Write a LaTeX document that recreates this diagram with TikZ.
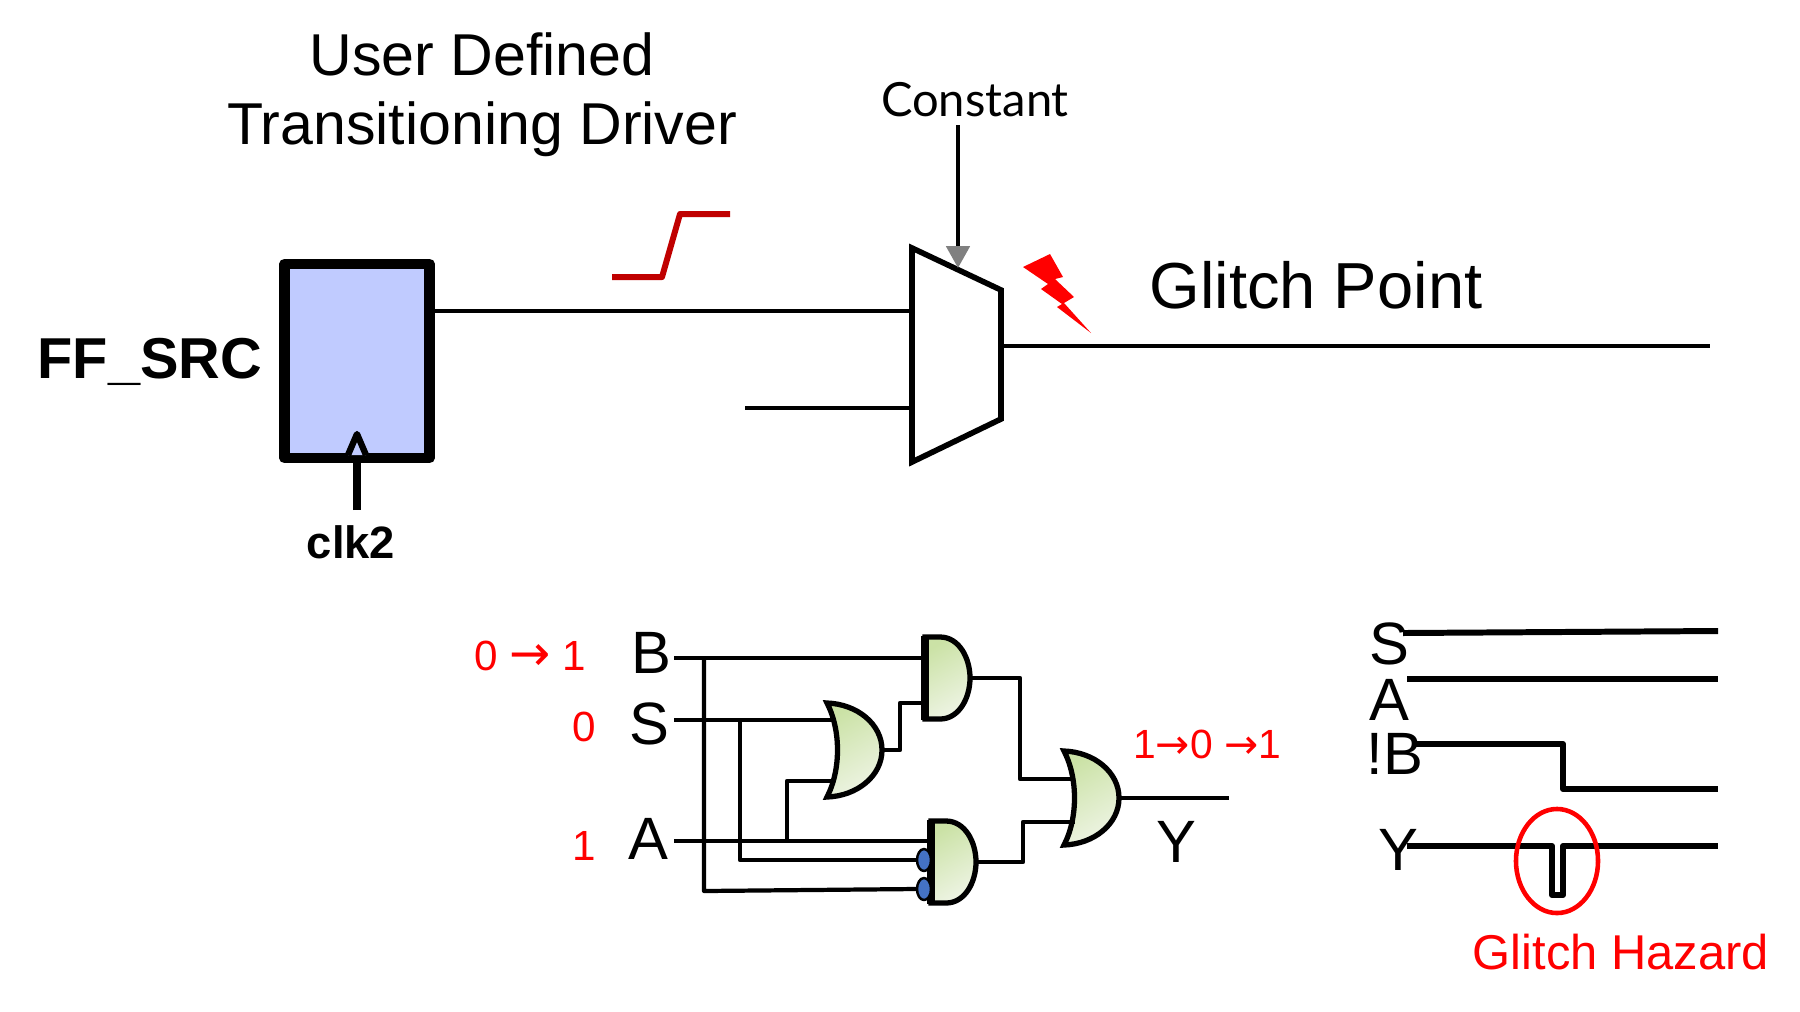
\documentclass[tikz,border=0pt]{standalone}
\usepackage{fontspec}
\setmainfont{Liberation Sans}
\newfontfamily\constfont{Lato}
\newfontfamily\arrowfont{DejaVu Sans}
\usetikzlibrary{arrows.meta, % gray tip on the select line
                shapes.geometric}
\definecolor{ffblue}{RGB}{192,203,255}
\definecolor{gatedark}{RGB}{203,226,166}
\definecolor{gatelight}{RGB}{238,244,228}
\definecolor{bubbleblue}{RGB}{68,114,196}
\definecolor{stepred}{RGB}{192,0,0}
\newcommand{\fsz}[1]{\fontsize{#1}{1.17\dimexpr #1pt\relax}\selectfont}
\newcommand{\arr}{{\arrowfont →}}
\tikzset{
  wire/.style={draw, line width=1.1pt},
  gatewire/.style={draw, line width=1.2pt},
  wave/.style={draw, line width=1.7pt},
  txt/.style={inner sep=0pt, outer sep=0pt},
  redtxt/.style={txt, text=red},
  bubble/.style={draw, fill=bubbleblue, ellipse, line width=.7pt, minimum width=.14cm, minimum height=.22cm, inner sep=0pt},
  gatebody/.style={draw, line width=1.5pt, line join=miter, top color=gatedark, bottom color=gatelight, shading angle=30},
  pics/andgate/.style={code={
    \path[gatebody] (0,-41) -- (15,-41) .. controls (34,-41) and (45,-20) .. (45,0)
      .. controls (45,20) and (34,41) .. (15,41) -- (0,41) -- cycle;
    \draw[line width=2pt] (0,-42) -- (0,42);
    \coordinate (-out) at (45,0);
  }},
  pics/orgate/.style={code={
    \path[gatebody] (0,-47) .. controls (30,-46) and (55,-26) .. (55,0)
      .. controls (55,26) and (30,46) .. (0,47)
      .. controls (14,20) and (14,-20) .. (0,-47) -- cycle;
    \coordinate (-out) at (55,0);
  }}
}
\begin{document}
\begin{tikzpicture}[x=0.01cm, y=-0.01cm, line join=round,
    every edge/.style={wire}]
  \useasboundingbox (0,0) rectangle (1800,1011);

  % Upper nodes
  \node (title) [txt, align=center, font=\fsz{16.8}] at (482,95) {User Defined\\Transitioning Driver};
  \node (constant) [txt, font=\constfont\fsz{13.4}] at (975,100) {Constant};
  \node (glitchpt) [txt, font=\fsz{18.5}] at (1316,285) {Glitch Point};
  \node (fflabel) [txt, font=\bfseries\fsz{16.4}, anchor=east] at (262,362) {FF\_SRC};
  \node (clklabel) [txt, font=\bfseries\fsz{12.9}] at (351,542) {clk2};
  \node (ffsrc) [draw, fill=ffblue, line width=3pt, minimum width=1.45cm, minimum height=1.94cm, inner sep=0pt] at (357,361) {};

  \coordinate (clkin) at (357,510);
  \coordinate (muxin1) at (912,311);
  \coordinate (muxin2) at (912,408);
  \coordinate (in2end) at (745,408);
  \coordinate (muxout) at (1001,346);
  \coordinate (outend) at (1710,346);
  \coordinate (selin) at (958,125);
  \coordinate (seltip) at (958,268);

  % Mux body
  \draw[line width=1.6pt, line join=miter, fill=white] (912,248) -- (1001,290) -- (1001,419) -- (912,462) -- cycle;

  % Upper edges
  \draw[line width=2pt] (clkin) -- (ffsrc.south);
  \draw[line width=1.8pt, fill=ffblue] (348,455) -- (357,434) -- (366,455);
  \draw (ffsrc.east |- muxin1) edge (muxin1);
  \draw (in2end) edge (muxin2);
  \draw (muxout) edge (outend);
  \draw[wire, -{Triangle[length=6.2pt, width=6.6pt, color=gray]}] (selin) -- (seltip);

  % Step and bolt
  \draw[line width=1.7pt, stepred] (612,277) -- (662,277) -- (680,214) -- (730,214);
  \fill[red] (1023,267) -- (1050,254) -- (1063,277) -- (1055,279) -- (1074,297) -- (1064,303) -- (1091,333)
    -- (1057,307) -- (1062,304) -- (1041,289) -- (1048,284) -- cycle;

  % Gate labels
  \node (lblb) [txt, font=\fsz{17}] at (651,653) {B};
  \node (lbls) [txt, font=\fsz{17}] at (649,724) {S};
  \node (lbla) [txt, font=\fsz{17}] at (648,839) {A};
  \node (lbly) [txt, font=\fsz{17}] at (1176,842) {Y};
  \node (valb) [redtxt, font=\fsz{12}] at (530,656) {0 {\fsz{14}\arr} 1};
  \node (vals) [redtxt, font=\fsz{12}] at (584,727) {0};
  \node (vala) [redtxt, font=\fsz{12}] at (584,846) {1};
  \node (valy) [redtxt, font=\fsz{11.6}] at (1207,744) {1\arr 0 \arr 1};

  % Gates
  \pic (and1) at (925,678) {andgate};
  \pic (and2) at (931,862) {andgate};
  \pic (or1) at (827,750) {orgate};
  \pic (or2) at (1064,798) {orgate};
  \node (bub1) [bubble] at (924,860) {};
  \node (bub2) [bubble] at (924,889) {};

  % Gate edges
  \coordinate (bsrc) at (674,658);
  \coordinate (ssrc) at (674,720);
  \coordinate (asrc) at (674,841);
  \coordinate (bdrop) at (704,658);
  \coordinate (bcorner) at (704,891);
  \coordinate (sdrop) at (740,720);
  \coordinate (adrop) at (787,841);
  \path[gatewire] (bsrc) -- (925,658);
  \path[gatewire] (ssrc) -- (835,720);
  \path[gatewire] (asrc) -- (931,841);
  \path[gatewire] (bdrop) -- (bcorner) -- (bub2.west);
  \path[gatewire] (sdrop) |- (bub1.west);
  \path[gatewire] (adrop) |- (835,781);
  \path[gatewire] (or1-out) -- (900,750) |- (925,703);
  \path[gatewire] (and1-out) -- (1020,678) |- (1075,779);
  \path[gatewire] (and2-out) -- (1023,862) |- (1075,822);
  \path[gatewire] (or2-out) -- (1229,798);

  % Waveform
  \node (wavs) [txt, font=\fsz{17}] at (1389,644) {S};
  \node (wava) [txt, font=\fsz{17}] at (1389,700) {A};
  \node (wavb) [txt, font=\fsz{17}] at (1395,754) {!B};
  \node (wavy) [txt, font=\fsz{17}] at (1398,850) {Y};
  \path[wave] (1403,633) -- (1718,631);
  \path[wave] (1407,679) -- (1718,679);
  \path[wave] (1415,744) -- (1563,744) -- (1563,789) -- (1718,789);
  \path[wave] (1407,846) -- (1552,846) -- (1552,895) -- (1563,895) -- (1563,846) -- (1718,846);
  \node (hazard) [draw=red, line width=1.3pt, ellipse, minimum width=.82cm, minimum height=1.04cm, inner sep=0pt] at (1557,861) {};
  \node (hazlabel) [redtxt, font=\fsz{13.9}] at (1621,952) {Glitch Hazard};
\end{tikzpicture}
\end{document}
